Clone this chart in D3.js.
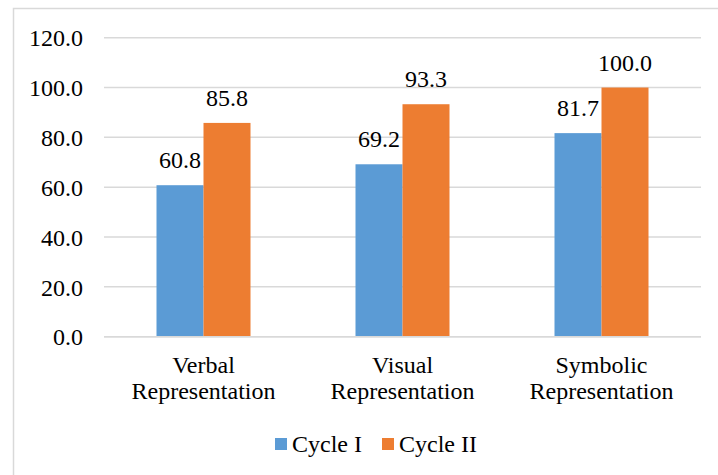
<!DOCTYPE html>
<html><head><meta charset="utf-8">
<script src="https://cdn.jsdelivr.net/npm/d3@7"></script>
<style>body{margin:0;background:#fff}svg{display:block}</style>
</head><body><svg id="c" width="718" height="475"></svg>
<script>
const categories = [["Verbal","Representation"],["Visual","Representation"],["Symbolic","Representation"]];
const seriesNames = ["Cycle I","Cycle II"];
const cycle1 = [60.8, 69.2, 81.7];
const cycle2 = [85.8, 93.3, 100.0];
const yTicks = [0,20,40,60,80,100,120];
const colors = ["#5B9BD5","#ED7D31"];

const FONT = '"Liberation Serif"';
const svg = d3.select("#c");
const fs = 24;
// chart border
svg.append("rect").attr("x",13.5).attr("y",8.5).attr("width",740).attr("height",500)
  .attr("fill","none").attr("stroke","#d9d9d9").attr("stroke-width",1.5);

const x0 = d3.scaleBand().domain(d3.range(categories.length)).range([104,701]);
const y = d3.scaleLinear().domain([0,120]).range([336.7,37.7]);
const barW = 47;

// gridlines
svg.append("g").selectAll("line").data(yTicks).join("line")
  .attr("x1",104).attr("x2",701).attr("y1",d=>y(d)).attr("y2",d=>y(d))
  .attr("stroke","#d9d9d9").attr("stroke-width",1.5);

// y axis labels
const yAxis = d3.axisLeft(y).tickValues(yTicks).tickFormat(d3.format(".1f")).tickSize(0).tickPadding(21);
const ga = svg.append("g").attr("transform","translate(104,0)").call(yAxis);
ga.attr("font-family",null).attr("font-size",null);
ga.select(".domain").remove();
ga.selectAll("text").style("font-family",FONT).style("font-size",fs+"px").attr("fill","#000").attr("dy","0.34em");

const data = [cycle1, cycle2];
data.forEach((vals,s)=>{
  const g = svg.append("g");
  g.selectAll("rect").data(vals).join("rect")
    .attr("x",(d,i)=>x0(i)+x0.bandwidth()/2 - barW + s*barW)
    .attr("width",barW)
    .attr("y",d=>y(d)).attr("height",d=>y(0)-y(d))
    .attr("fill",colors[s]);
  g.selectAll("text").data(vals).join("text")
    .attr("x",(d,i)=>x0(i)+x0.bandwidth()/2 - barW/2 + s*barW)
    .attr("y",d=>y(d)-17)
    .attr("text-anchor","middle").style("font-family",FONT).style("font-size",fs+"px").attr("fill","#000")
    .text(d=>d.toFixed(1));
});

// baseline
svg.append("line").attr("x1",104).attr("x2",701).attr("y1",y(0)).attr("y2",y(0))
  .attr("stroke","#d9d9d9").attr("stroke-width",1.5);

// category labels
categories.forEach((lines,i)=>{
  const cx = x0(i)+x0.bandwidth()/2;
  const t = svg.append("text").attr("text-anchor","middle").style("font-family",FONT).style("font-size",fs+"px").attr("fill","#000")
    .attr("x",cx).attr("y",372.7);
  lines.forEach((l,j)=>t.append("tspan").attr("x",cx).attr("y",372.7+j*26.7).text(l));
});

// legend
const legX = [275, 382];
seriesNames.forEach((n,i)=>{
  svg.append("rect").attr("x",legX[i]).attr("y",438).attr("width",12).attr("height",12).attr("fill",colors[i]);
  svg.append("text").attr("x",legX[i]+17).attr("y",451.7).style("font-family",FONT).style("font-size",fs+"px").attr("fill","#000").text(n);
});
</script></body></html>
